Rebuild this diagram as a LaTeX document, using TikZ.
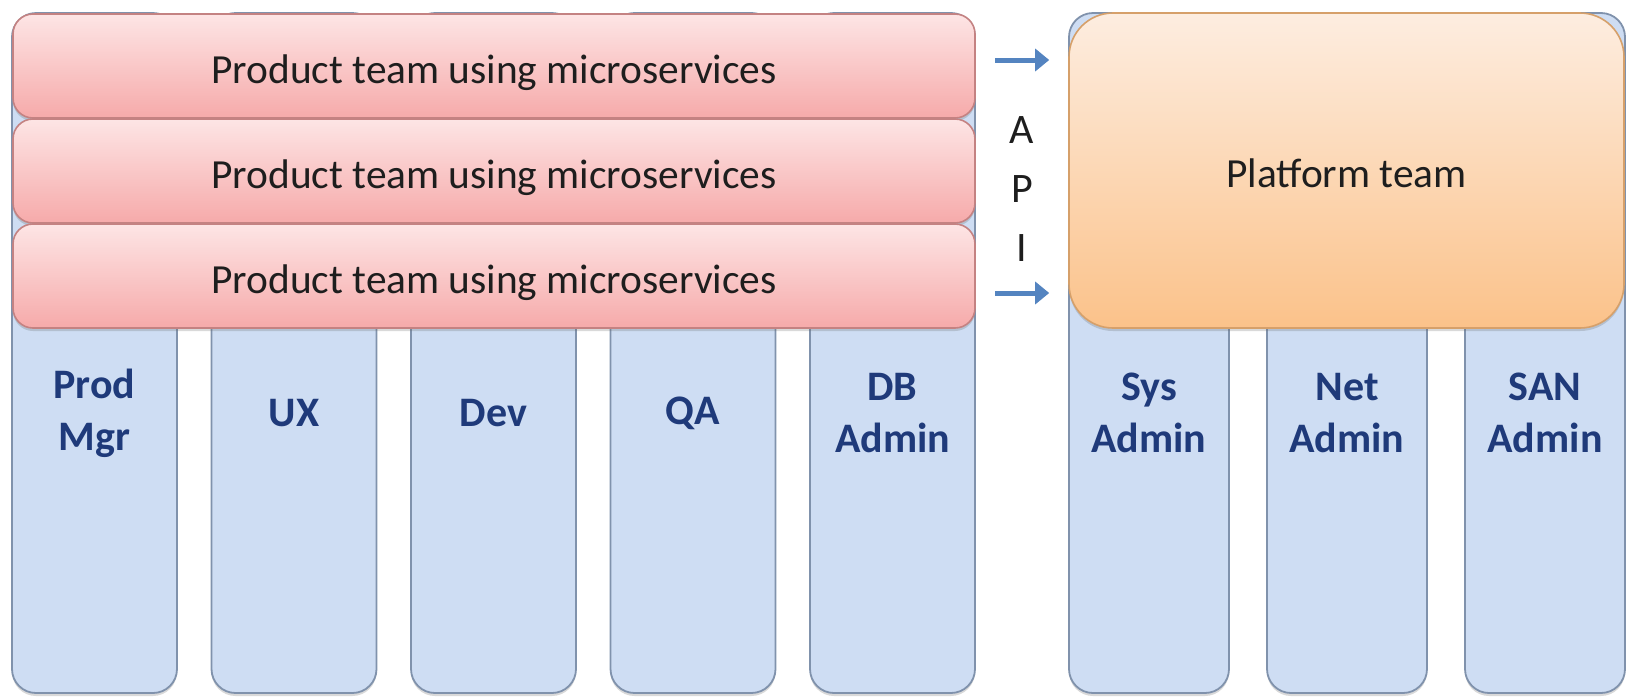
\documentclass[tikz,border=0pt]{standalone}
\usepackage{fontspec}
\setmainfont{Carlito}
\usetikzlibrary{positioning,arrows.meta,shadows}
\definecolor{colorteam}     {RGB}{246,170,170}
\definecolor{colorteamtop}  {RGB}{253,229,229}
\definecolor{colorteamline} {RGB}{196,130,130}
\definecolor{colorplat}     {RGB}{251,194,138}
\definecolor{colorplattop}  {RGB}{253,237,224}
\definecolor{colorplatline} {RGB}{214,160,106}
\definecolor{colorrole}     {RGB}{206,221,243}
\definecolor{colorroleline} {RGB}{128,146,172}
\definecolor{colorroletext} {RGB}{31 ,58 ,122}
\definecolor{colorapi}      {RGB}{84 ,132,192}
\definecolor{colortext}     {RGB}{30 ,30 ,30 }

\begin{document}
\begin{tikzpicture}[
    x=0.5pt, y=-0.5pt,
    softshadow/.style={drop shadow={shadow xshift=0pt,shadow yshift=-1.5pt,opacity=0.25,fill=black!60}},
    role/.style={draw=colorroleline,fill=colorrole,line width=0.9pt,rounded corners=12pt,
        minimum height=340pt,inner sep=0pt,softshadow},
    rolelabel/.style={text=colorroletext,font={\fontsize{21}{26}\selectfont\bfseries},align=center},
    team/.style={draw=colorteamline,top color=colorteamtop,bottom color=colorteam,line width=0.8pt,
        rounded corners=10pt,minimum width=481pt,minimum height=52pt,inner sep=0pt,softshadow,
        text height=17pt,text depth=0pt,text=colortext,font={\fontsize{20.7}{24}\selectfont}},
    platform/.style={draw=colorplatline,top color=colorplattop,bottom color=colorplat,line width=0.8pt,
        rounded corners=22pt,minimum width=277.5pt,minimum height=157.5pt,inner sep=0pt,softshadow,
        text height=17pt,text depth=0pt,text=colortext,font={\fontsize{20.7}{24}\selectfont}},
    apitext/.style={text=colortext,font={\fontsize{21}{29.5}\selectfont},align=center,inner sep=0pt},
    apiarrow/.style={draw=colorapi,line width=2.5pt,-{Triangle[length=7pt,width=11pt]},shorten >=9.5pt},
]
    \useasboundingbox (0,0) rectangle (1627,697);

    % roles under the product teams
    \node[role,minimum width=82.5pt] (pm) at (94.5,353)  {};
    \node[role,minimum width=82.5pt] (ux) at (294,353)   {};
    \node[role,minimum width=82.5pt] (dev) at (493.5,353) {};
    \node[role,minimum width=82.5pt] (qa) at (693,353)   {};
    \node[role,minimum width=82.5pt] (dba) at (892.5,353) {};

    % roles under the platform team
    \node[role,minimum width=80pt] (sys) at (1149,353) {};
    \node[role,minimum width=80pt] (net) at (1347,353) {};
    \node[role,minimum width=80pt] (san) at (1545,353) {};

    \node[rolelabel] (pmtext)  at (pm |- 0,413)  {Prod\\Mgr};
    \node[rolelabel] (uxtext)  at (ux |- 0,413)  {UX};
    \node[rolelabel] (devtext) at (dev |- 0,413) {Dev};
    \node[rolelabel] (qatext)  at (qa |- 0,413)  {QA};
    \node[rolelabel] (dbatext) at (dba |- 0,413) {DB\\Admin};
    \node[rolelabel] (systext) at (sys |- 0,413) {Sys\\Admin};
    \node[rolelabel] (nettext) at (net |- 0,413) {Net\\Admin};
    \node[rolelabel] (santext) at (san |- 0,413) {SAN\\Admin};

    \node[team] (team1) at (494,66)  {Product team using microservices};
    \node[team] (team2) at (494,171) {Product team using microservices};
    \node[team] (team3) at (494,276) {Product team using microservices};

    \node[platform] (plat) at (1346.5,170.5) {Platform team};

    \node[apitext] (api) at (1022,189) {A\\P\\I};
    \coordinate (apiin1) at (995,60);
    \coordinate (apiin2) at (995,293);
    \draw[apiarrow] (apiin1) -- (apiin1 -| plat.west);
    \draw[apiarrow] (apiin2) -- (apiin2 -| plat.west);

\end{tikzpicture}
\end{document}
